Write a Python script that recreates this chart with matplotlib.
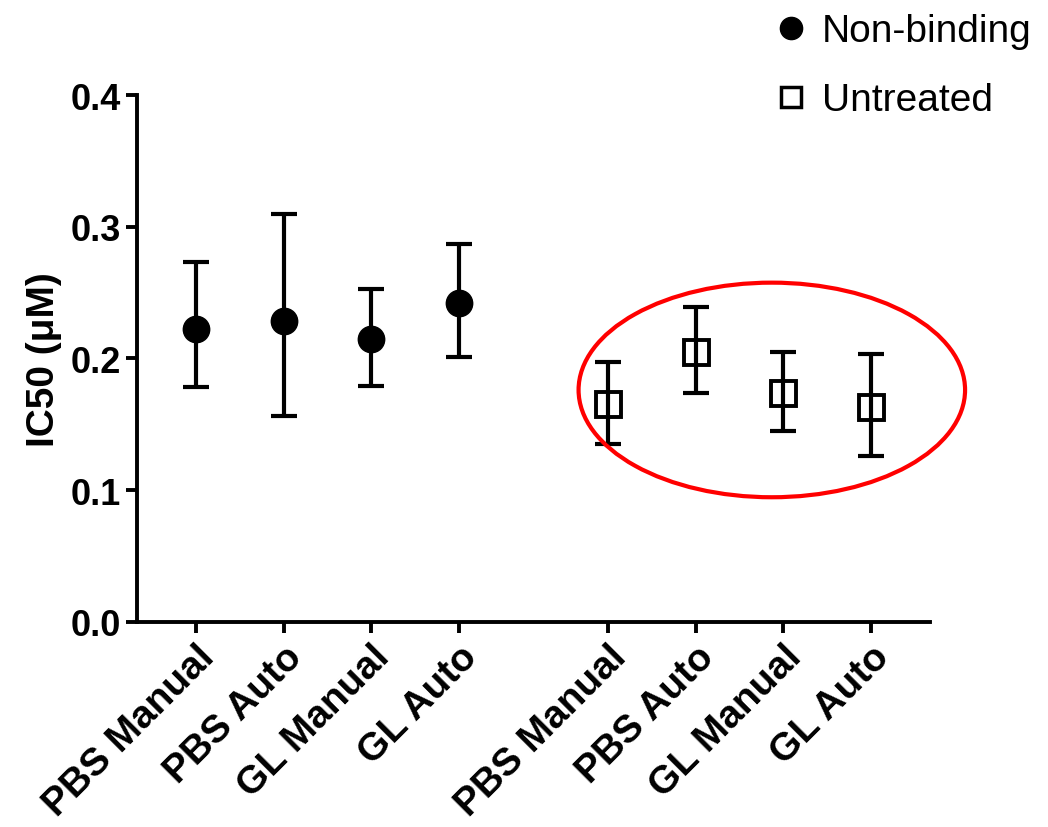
import numpy as np
import matplotlib
matplotlib.use('Agg')
import matplotlib.pyplot as plt
from matplotlib.patches import Ellipse
from matplotlib.lines import Line2D

plt.rcParams['font.family'] = ['Liberation Sans', 'DejaVu Sans']

# ── data ──
categories = ['PBS Manual', 'PBS Auto', 'GL Manual', 'GL Auto']
x_nb = [1, 2, 3, 4]
x_un = [5.7, 6.7, 7.7, 8.7]

nb_mean = [0.222, 0.228, 0.215, 0.242]
nb_low = [0.178, 0.156, 0.179, 0.201]
nb_high = [0.273, 0.310, 0.253, 0.287]

un_mean = [0.165, 0.205, 0.174, 0.163]
un_low = [0.135, 0.174, 0.145, 0.126]
un_high = [0.197, 0.239, 0.205, 0.203]

fig = plt.figure(figsize=(10.48, 8.28), dpi=100)
ax = fig.add_axes([0.131, 0.248, 0.756, 0.636])

lw = 3.0
def draw(x, m, lo, hi, **kw):
    m = np.array(m)
    err = [m - np.array(lo), np.array(hi) - m]
    ax.errorbar(x, m, yerr=err, fmt='none', ecolor='black', elinewidth=lw,
                capsize=9.5, capthick=lw, zorder=2)
    ax.plot(x, m, linestyle='none', zorder=3, **kw)

draw(x_nb, nb_mean, nb_low, nb_high, marker='o', color='black', markersize=19)
draw(x_un, un_mean, un_low, un_high, marker='s', color='black', mfc='none',
     markersize=18, markeredgewidth=2.8)

# red ellipse around the untreated group
ell = Ellipse((7.57, 0.176), 4.41, 0.163, fill=False, edgecolor='red',
              linewidth=3.0, clip_on=False, zorder=4)
ax.add_patch(ell)

ax.set_xlim(0.33, 9.37)
ax.set_ylim(0, 0.4)
ax.set_yticks([0.0, 0.1, 0.2, 0.3, 0.4])
ax.set_yticklabels(['0.0', '0.1', '0.2', '0.3', '0.4'], fontsize=26, fontweight='bold')
ax.set_xticks(x_nb + x_un)
ax.set_xticklabels(categories + categories, rotation=45, ha='right',
                   rotation_mode='anchor', fontsize=28, fontweight='bold')
ax.set_ylabel('IC50 (μM)', fontsize=28, fontweight='bold', labelpad=6)

for s in ['top', 'right']:
    ax.spines[s].set_visible(False)
for s in ['left', 'bottom']:
    ax.spines[s].set_linewidth(2.8)
ax.tick_params(direction='out', length=8, width=2.8, pad=4)

handles = [Line2D([], [], marker='o', color='black', linestyle='none', markersize=16),
           Line2D([], [], marker='s', color='black', mfc='none', linestyle='none',
                  markersize=15, markeredgewidth=2.5)]
fig.legend(handles, ['Non-binding', 'Untreated'], loc='upper right',
           bbox_to_anchor=(1.018, 1.025), frameon=False, fontsize=28,
           handletextpad=0.3, labelspacing=0.85, handlelength=1.0)

plt.savefig('out.png', dpi=100)
plt.close()
